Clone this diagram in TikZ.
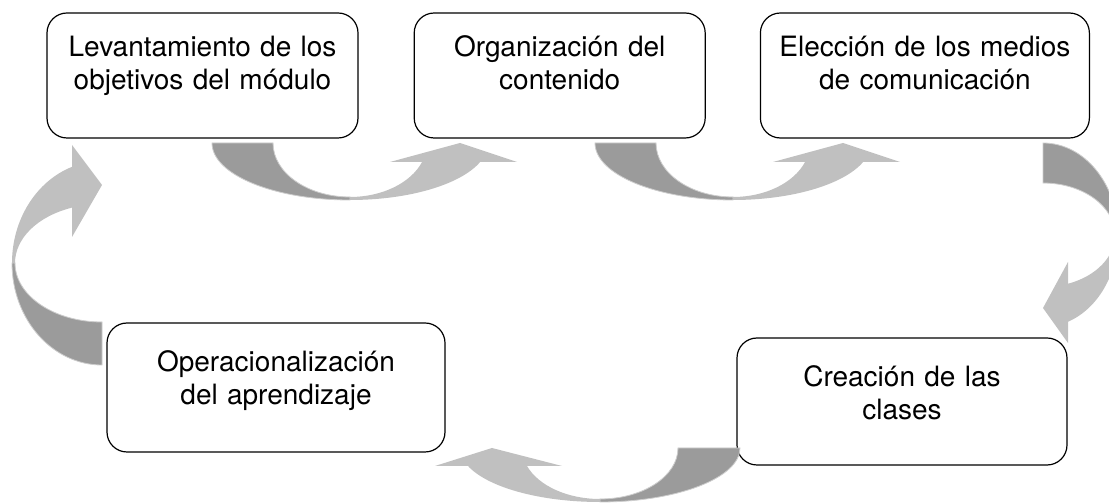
\documentclass[tikz,border=0pt]{standalone}
\usepackage{fontspec}
\setmainfont{TeX Gyre Heros}
\usetikzlibrary{positioning}
\definecolor{ArrowDark}{RGB}{155,155,155}
\definecolor{ArrowLight}{RGB}{192,192,192}

% U-shaped block arrow, drawn round (0,0), bulging to -y:
% #1/#2 outer/inner half length, #3/#4 outer/inner depth, #5 head base, #6/#7 inner/outer barb, #8 tip
\newcommand{\turnarrow}[8]{%
	\pgfmathsetmacro{\angout}{360-asin(#5/#3)}%
	\pgfmathsetmacro{\angin}{360-asin(#5/#4)}%
	\pgfmathsetmacro{\endin}{#2*cos(\angin)}%
	\path [darkhalf] (-#1,0) arc [start angle=180, end angle=270, x radius=#1, y radius=#3] -- (0,-#4) arc [start angle=270, end angle=180, x radius=#2, y radius=#4] -- cycle;
	\path [lighthalf] (0,-#3) arc [start angle=270, end angle=\angout, x radius=#1, y radius=#3] -- (#7,-#5) -- (#8,0) -- (#6,-#5) -- (\endin,-#5) arc [start angle=\angin, end angle=270, x radius=#2, y radius=#4] -- cycle;
}

\begin{document}
\begin{tikzpicture}[x=1pt, y=1pt]
	\tikzstyle{stage} = [rectangle, rounded corners=20, draw=black, line width=1.2, inner xsep=0, inner ysep=24, text height=20, text depth=57, align=center, font=\fontsize{28}{33}\selectfont]
	\tikzstyle{darkhalf} = [fill=ArrowDark, draw=ArrowLight!80, line width=0.8]
	\tikzstyle{lighthalf} = [fill=ArrowLight]
	
	\path [fill=white, use as bounding box] (0,0) rectangle (1109,503);
	
	\node (lev) [stage, text width=311] at (202.5,427.5) {Levantamiento de los\\objetivos del módulo};
	\node (org) [stage, text width=291, right=55pt of lev] {Organización del\\contenido};
	\node (elec) [stage, text width=329, right=54pt of org] {Elección de los medios\\de comunicación};
	\node (crea) [stage, text width=330, text depth=49, inner ysep=29] at (902,101.5) {Creación de las\\clases};
	\node (oper) [stage, text width=338, text depth=52, inner ysep=28.5] at (276,115.5) {Operacionalización\\del aprendizaje};
	
	\coordinate (levorg) at (350,360);
	\coordinate (orgelec) at (733,360);
	\coordinate (eleccrea) at (1043,268);
	\coordinate (creaoper) at (600,55);
	\coordinate (operlev) at (102,240);
	
	\begin{scope}[shift={(levorg)}]
		\turnarrow{138}{77}{57}{54}{19}{40}{167}{110}
	\end{scope}
	\begin{scope}[shift={(orgelec)}]
		\turnarrow{138}{77}{57}{54}{19}{40}{167}{110}
	\end{scope}
	\begin{scope}[shift={(eleccrea)}, cm={0,-1,-1,0,(0,0)}]
		\turnarrow{92}{52}{75}{72}{25}{27}{108}{73}
	\end{scope}
	\begin{scope}[shift={(creaoper)}, xscale=-1]
		\turnarrow{140}{78}{54}{51}{18}{38}{165}{108}
	\end{scope}
	\begin{scope}[shift={(operlev)}, cm={0,1,1,0,(0,0)}]
		\turnarrow{102}{59}{90}{87}{30}{26}{118}{78}
	\end{scope}
\end{tikzpicture}
\end{document}
